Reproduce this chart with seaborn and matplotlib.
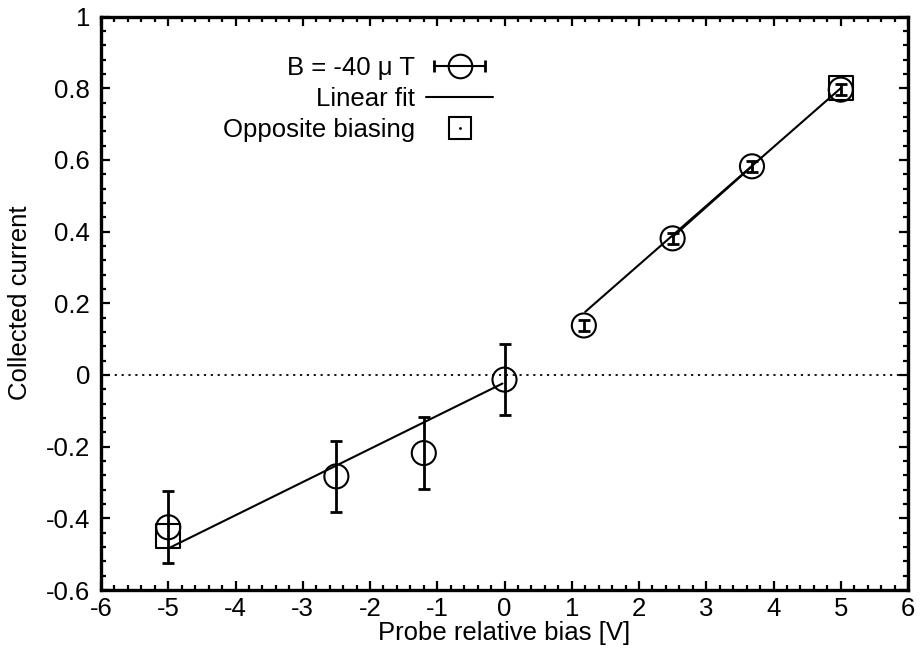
import numpy as np
import pandas as pd
import matplotlib
matplotlib.use("Agg")
import matplotlib.pyplot as plt
from matplotlib.lines import Line2D
from matplotlib.legend_handler import HandlerLine2D, HandlerTuple
from matplotlib.ticker import MultipleLocator
import seaborn as sns

# Measured collected current vs. probe bias (B = -40 uT)
bias = [-5.0, -2.5, -1.2, 0.0, 1.18, 2.5, 3.68, 5.0]
current = [-0.425, -0.283, -0.218, -0.013, 0.138, 0.381, 0.582, 0.796]
current_err = [0.10, 0.10, 0.10, 0.10, 0.015, 0.015, 0.015, 0.015]

# Opposite biasing measurements
opp_bias = [-5.0, 5.0]
opp_current = [-0.45, 0.80]

# Linear fits (two branches)
fit_neg_x = [-5.0, -0.03]
fit_neg_y = [-0.484, -0.024]
fit_pos_x = [1.2, 5.0]
fit_pos_y = [0.176, 0.80]
fit_mid_x = [2.5, 3.68]
fit_mid_y = [0.385, 0.582]

xticks = list(range(-6, 7))
yticks = [-0.6, -0.4, -0.2, 0, 0.2, 0.4, 0.6, 0.8, 1]

sns.set_theme(style="ticks")
plt.rcParams["font.family"] = ["Liberation Sans", "DejaVu Sans"]
plt.rcParams["text.color"] = "black"
plt.rcParams["axes.labelcolor"] = "black"

fig = plt.figure(figsize=(9.24, 6.51), dpi=100)
ax = fig.add_axes([101 / 924, 1 - 590 / 651, 807 / 924, 573.5 / 651])

df = pd.DataFrame({"bias": bias, "current": current, "err": current_err})
opp = pd.DataFrame({"bias": opp_bias, "current": opp_current})

# zero reference line
ax.axhline(0, color="black", lw=1.3, ls=(0, (1.2, 2.6)), zorder=1)

# fit lines
lw = 1.5
for fx, fy in [(fit_neg_x, fit_neg_y), (fit_pos_x, fit_pos_y), (fit_mid_x, fit_mid_y)]:
    sns.lineplot(x=fx, y=fy, ax=ax, color="black", lw=lw, zorder=3, legend=False)

# error bars
ax.errorbar(df["bias"], df["current"], yerr=df["err"], fmt="none",
            ecolor="black", elinewidth=2.0, capsize=4.5, capthick=2.0, zorder=4)

# opposite biasing squares
sns.scatterplot(data=opp, x="bias", y="current", ax=ax, marker="s", s=300,
                facecolors="none", edgecolor="black", linewidth=1.5, zorder=5,
                legend=False)
sns.scatterplot(data=opp, x="bias", y="current", ax=ax, marker=".", s=4,
                color="black", linewidth=0, zorder=6, legend=False)

# measurement circles
sns.scatterplot(data=df, x="bias", y="current", ax=ax, marker="o", s=300,
                facecolors="none", edgecolor="black", linewidth=1.5, zorder=6,
                legend=False)

ax.set_xlim(-6, 6)
ax.set_ylim(-0.6, 1.0)
ax.set_xticks(xticks)
ax.set_yticks(yticks)
ax.set_xticklabels([str(t) for t in xticks])
ax.set_yticklabels(["-0.6", "-0.4", "-0.2", "0", "0.2", "0.4", "0.6", "0.8", "1"])
ax.xaxis.set_minor_locator(MultipleLocator(0.2))
ax.yaxis.set_minor_locator(MultipleLocator(0.04))

fs = 18.5
ax.tick_params(which="both", direction="in", top=True, right=True,
               color="black", labelsize=fs, labelcolor="black")
ax.tick_params(which="major", length=6.5, width=1.6)
ax.tick_params(which="minor", length=3.5, width=1.6)
ax.tick_params(axis="x", which="major", pad=5)
ax.tick_params(axis="y", which="major", pad=8)
for sp in ax.spines.values():
    sp.set_linewidth(2.4)
    sp.set_color("black")

ax.set_xlabel("Probe relative bias [V]", fontsize=fs, color="black", labelpad=0)
ax.set_ylabel("Collected current", fontsize=fs, color="black", labelpad=10)

# legend with gnuplot-like layout: label on the left, sample on the right
caps = Line2D([], [], color="black", lw=1.5, marker="|", markersize=8,
              markeredgewidth=2.0)
circ = Line2D([], [], color="none", marker="o", markersize=17,
              markerfacecolor="none", markeredgecolor="black", markeredgewidth=1.5)
fit_h = Line2D([], [], color="black", lw=1.5)
sq = Line2D([], [], color="none", marker="s", markersize=16,
            markerfacecolor="none", markeredgecolor="black", markeredgewidth=1.5)
sq_dot = Line2D([], [], color="none", marker=".", markersize=2,
                markerfacecolor="black", markeredgecolor="black")

leg = ax.legend([(caps, circ), fit_h, (sq, sq_dot)],
                ["B = -40 μ T", "Linear fit", "Opposite biasing"],
                handler_map={caps: HandlerLine2D(numpoints=2),
                             tuple: HandlerTuple(ndivide=1, pad=0)},
                loc="upper right", bbox_to_anchor=(392 / 807, 0.931),
                frameon=False, markerfirst=False, fontsize=fs,
                handlelength=2.6, handletextpad=0.45, labelspacing=0.27,
                borderpad=0, borderaxespad=0, numpoints=1)

fig.savefig("out.png", dpi=100)
